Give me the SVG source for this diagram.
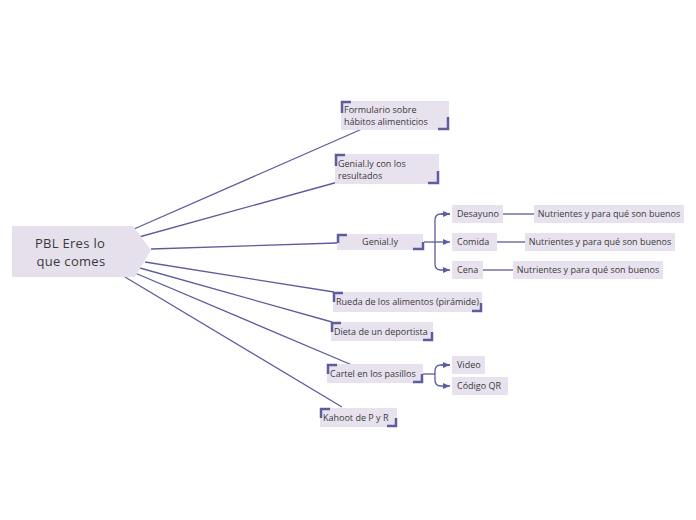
<svg xmlns="http://www.w3.org/2000/svg" width="696" height="520" viewBox="0 0 696 520">
<defs>
<style>
.bg{fill:#ffffff}
.box{fill:#e8e2ee}
.br{fill:none;stroke:#5c5c9e;stroke-width:2.5}
.ln{fill:none;stroke:#5c5c9e;stroke-width:1.3}
.t{font-family:"Open Sans","Liberation Sans",sans-serif;font-size:9px;fill:#3a3a3a}
.tr{font-family:"Open Sans","Liberation Sans",sans-serif;font-size:13px;fill:#3a3a3a;text-anchor:middle;letter-spacing:0.3px}
</style>
<marker id="ah" viewBox="0 0 10 10" refX="9" refY="5" markerWidth="6" markerHeight="6" orient="auto">
<path d="M0,1 L9,5 L0,9 z" fill="#5c5c9e"/>
</marker>
</defs>
<rect class="bg" x="0" y="0" width="696" height="520"/>
<g id="connectors">
<line class="ln" x1="134" y1="229" x2="362" y2="129"/>
<line class="ln" x1="139" y1="237" x2="338" y2="182"/>
<line class="ln" x1="151" y1="249" x2="337" y2="243"/>
<line class="ln" x1="145" y1="262" x2="334" y2="292"/>
<line class="ln" x1="140" y1="268" x2="332" y2="322"/>
<line class="ln" x1="135" y1="273" x2="352" y2="365"/>
<line class="ln" x1="125" y1="277" x2="342" y2="407"/>
<path class="ln" d="M424,242 H435"/>
<path class="ln" d="M450,214 H441 Q435,214 435,220 V264 Q435,270 441,270 H450" marker-end="url(#ah)"/>
<path class="ln" d="M441,214 H450" marker-end="url(#ah)"/>
<path class="ln" d="M435,242 H450" marker-end="url(#ah)"/>
<line class="ln" x1="503" y1="214" x2="534" y2="214"/>
<line class="ln" x1="497" y1="242" x2="525" y2="242"/>
<line class="ln" x1="483" y1="270" x2="513" y2="270"/>
<path class="ln" d="M423,374 H435"/>
<path class="ln" d="M450,365 H441 Q435,365 435,371 V380 Q435,386 441,386 H450" marker-end="url(#ah)"/>
<path class="ln" d="M441,365 H450" marker-end="url(#ah)"/>
</g>
<g id="root">
<path d="M12,226 H133 L151,250 L135,277 H12 Z" fill="#e6e0ec"/>
<text class="tr" x="70" y="248">PBL Eres lo</text>
<text class="tr" x="71" y="266">que comes</text>
</g>
<g id="n-formulario">
<rect class="box" x="341" y="101" width="108" height="29"/>
<path class="br" d="M342,113 V102 H351"/>
<path class="br" d="M438,129 H448 V117"/>
<text class="t" x="344" y="113">Formulario sobre</text>
<text class="t" x="344" y="125">hábitos alimenticios</text>
</g>
<g id="n-genially-resultados">
<rect class="box" x="335" y="154" width="104" height="30"/>
<path class="br" d="M336,166 V155 H345"/>
<path class="br" d="M428,183 H438 V171"/>
<text class="t" x="338" y="167">Genial.ly con los</text>
<text class="t" x="338" y="179">resultados</text>
</g>
<g id="n-genially">
<rect class="box" x="337" y="234" width="86" height="16"/>
<path class="br" d="M338,243 V235 H347"/>
<path class="br" d="M413,249 H423 V242"/>
<text class="t" x="380" y="245" text-anchor="middle">Genial.ly</text>
</g>
<g id="n-desayuno">
<rect class="box" x="452" y="205" width="51" height="18"/>
<text class="t" x="457" y="217">Desayuno</text>
</g>
<g id="n-comida">
<rect class="box" x="452" y="233" width="45" height="18"/>
<text class="t" x="457" y="245">Comida</text>
</g>
<g id="n-cena">
<rect class="box" x="452" y="261" width="31" height="18"/>
<text class="t" x="457" y="273">Cena</text>
</g>
<g id="n-nutri-1">
<rect class="box" x="534" y="205" width="150" height="18"/>
<text class="t" x="609" y="217" text-anchor="middle">Nutrientes y para qué son buenos</text>
</g>
<g id="n-nutri-2">
<rect class="box" x="525" y="233" width="150" height="18"/>
<text class="t" x="600" y="245" text-anchor="middle">Nutrientes y para qué son buenos</text>
</g>
<g id="n-nutri-3">
<rect class="box" x="513" y="261" width="150" height="18"/>
<text class="t" x="588" y="273" text-anchor="middle">Nutrientes y para qué son buenos</text>
</g>
<g id="n-rueda">
<rect class="box" x="333" y="292" width="149" height="20"/>
<path class="br" d="M334,302 V293 H343"/>
<path class="br" d="M472,311 H481 V303"/>
<text class="t" x="336" y="305">Rueda de los alimentos (pirámide)</text>
</g>
<g id="n-dieta">
<rect class="box" x="331" y="322" width="102" height="19"/>
<path class="br" d="M332,332 V323 H341"/>
<path class="br" d="M423,340 H432 V332"/>
<text class="t" x="334" y="335">Dieta de un deportista</text>
</g>
<g id="n-cartel">
<rect class="box" x="327" y="364" width="96" height="19"/>
<path class="br" d="M328,374 V365 H337"/>
<path class="br" d="M413,382 H422 V374"/>
<text class="t" x="330" y="377">Cartel en los pasillos</text>
</g>
<g id="n-video">
<rect class="box" x="452" y="356" width="33" height="18"/>
<text class="t" x="457" y="368">Video</text>
</g>
<g id="n-codigo">
<rect class="box" x="452" y="377" width="56" height="18"/>
<text class="t" x="457" y="389">Código QR</text>
</g>
<g id="n-kahoot">
<rect class="box" x="320" y="408" width="77" height="19"/>
<path class="br" d="M321,418 V409 H330"/>
<path class="br" d="M387,426 H396 V418"/>
<text class="t" x="323" y="421">Kahoot de P y R</text>
</g>
</svg>
